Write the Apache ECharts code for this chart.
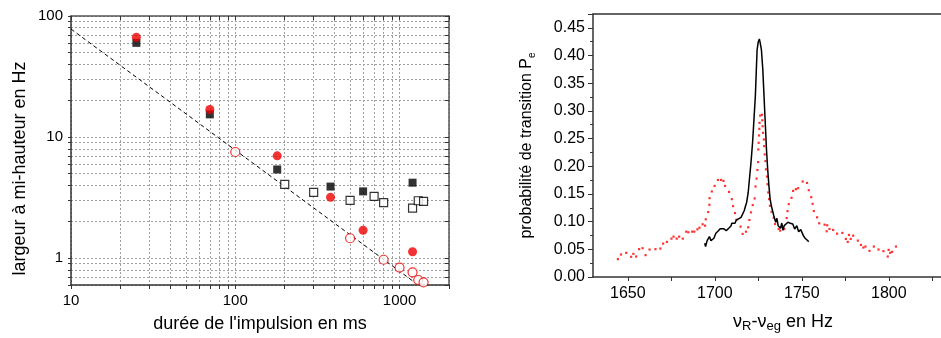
<!DOCTYPE html>
<html>
<head>
<meta charset="utf-8">
<script src="https://cdn.jsdelivr.net/npm/echarts@6/dist/echarts.min.js"></script>
<style>
  html, body { margin: 0; padding: 0; background: #fff; }
  #chart { width: 941px; height: 338px; }
</style>
</head>
<body>
<div id="chart"></div>
<script>
// left panel: linewidth vs pulse duration (log-log)
const pulseFilled = [25, 70, 180, 380, 600, 1200];
const widthSquareFilled = [60, 15.4, 5.4, 3.9, 3.56, 4.2];
const widthCircleFilled = [66.6, 16.9, 7.0, 3.18, 1.7, 1.13];
const pulseSquareOpen = [200, 300, 500, 700, 800, 1200, 1300, 1400];
const widthSquareOpen = [4.06, 3.49, 3.0, 3.24, 2.87, 2.59, 2.98, 2.94];
const pulseCircleOpen = [100, 500, 800, 1000, 1200, 1300, 1400];
const widthCircleOpen = [7.53, 1.46, 0.97, 0.836, 0.764, 0.66, 0.63];
const fitPulse = [10, 1300];
const fitWidth = [78, 0.6];
const leftXTicks = [10, 20, 30, 40, 50, 60, 70, 80, 90, 100, 200, 300, 400, 500, 600, 700, 800, 900, 1000, 2000];
const leftXLabels = [10, 100, 1000];
const leftYTicks = [0.6, 0.7, 0.8, 0.9, 1, 2, 3, 4, 5, 6, 7, 8, 9, 10, 20, 30, 40, 50, 60, 70, 80, 90, 100];
const leftYLabels = [1, 10, 100];

// right panel: transition probability vs detuning
const blackFreq = [1694.2, 1694.7, 1695.6, 1696.9, 1697.8, 1698.6, 1699.5, 1700.6, 1701.8, 1703.1, 1704.1, 1705.0, 1706.6, 1708.0, 1709.3, 1709.8, 1710.7, 1711.6, 1712.4, 1713.3, 1715.1, 1715.6, 1716.9, 1717.7, 1718.3, 1719.2, 1719.9, 1720.8, 1721.7, 1722.5, 1723.3, 1723.8, 1724.3, 1725.0, 1725.6, 1726.1, 1726.8, 1727.6, 1728.3, 1729.0, 1729.7, 1730.4, 1731.1, 1731.8, 1732.5, 1733.2, 1733.9, 1735.0, 1735.7, 1736.4, 1737.8, 1738.5, 1739.2, 1739.9, 1741.0, 1742.0, 1743.4, 1744.8, 1745.9, 1747.1, 1748.2, 1749.4, 1750.1, 1750.9, 1751.9, 1753.0, 1754.0];
const blackProb = [0.061, 0.055, 0.0657, 0.0729, 0.0657, 0.0629, 0.070, 0.079, 0.0826, 0.0873, 0.0885, 0.0873, 0.0837, 0.088, 0.0921, 0.097, 0.0945, 0.097, 0.1029, 0.1047, 0.1078, 0.1106, 0.1196, 0.1286, 0.1347, 0.1527, 0.1766, 0.2065, 0.2424, 0.2843, 0.3262, 0.3682, 0.410, 0.425, 0.430, 0.423, 0.410, 0.374, 0.326, 0.278, 0.2304, 0.1945, 0.1645, 0.1406, 0.1286, 0.1196, 0.1106, 0.0988, 0.106, 0.0927, 0.088, 0.0975, 0.0844, 0.0927, 0.0916, 0.0988, 0.097, 0.0957, 0.0867, 0.0927, 0.0819, 0.0855, 0.0819, 0.0747, 0.070, 0.0688, 0.0639];
const redFreq = [1644.3, 1646.1, 1649.1, 1651.9, 1653.2, 1654.8, 1656.5, 1658.5, 1660.2, 1662.5, 1665.9, 1668.7, 1670.3, 1672.5, 1675.1, 1676.3, 1678.1, 1679.5, 1681.6, 1683.6, 1684.8, 1687.0, 1688.2, 1690.0, 1691.2, 1693.0, 1694.4, 1694.8, 1696.2, 1696.9, 1697.0, 1698.3, 1699.9, 1701.8, 1703.6, 1705.0, 1705.9, 1708.2, 1709.8, 1710.5, 1711.6, 1712.4, 1714.8, 1716.0, 1717.9, 1719.2, 1719.9, 1720.8, 1721.8, 1722.9, 1723.4, 1724.0, 1724.5, 1724.9, 1725.0, 1725.2, 1725.4, 1725.6, 1725.7, 1726.1, 1727.1, 1727.3, 1727.5, 1727.7, 1728.2, 1728.4, 1728.7, 1729.1, 1729.4, 1730.0, 1730.3, 1730.7, 1731.2, 1731.7, 1732.6, 1733.9, 1734.6, 1736.7, 1737.6, 1739.9, 1741.3, 1741.8, 1742.5, 1744.1, 1745.0, 1746.6, 1747.9, 1750.5, 1753.0, 1754.0, 1755.4, 1756.2, 1756.9, 1758.8, 1760.0, 1763.1, 1764.3, 1764.6, 1765.9, 1768.0, 1770.3, 1773.3, 1775.3, 1776.4, 1777.1, 1778.1, 1779.5, 1782.2, 1784.0, 1785.4, 1786.6, 1788.9, 1791.4, 1794.1, 1796.9, 1799.4, 1799.9, 1800.8, 1801.9, 1804.1];
const redProb = [0.0323, 0.0406, 0.0436, 0.0365, 0.0418, 0.037, 0.0503, 0.052, 0.0395, 0.0496, 0.0503, 0.0514, 0.0603, 0.0634, 0.0693, 0.0729, 0.0693, 0.0729, 0.0693, 0.0819, 0.0808, 0.0819, 0.0819, 0.0862, 0.0891, 0.0952, 0.0927, 0.1042, 0.1173, 0.1304, 0.1424, 0.1545, 0.1645, 0.1753, 0.1753, 0.1735, 0.1645, 0.1537, 0.1406, 0.128, 0.1155, 0.1034, 0.0909, 0.0778, 0.0819, 0.0898, 0.1029, 0.1167, 0.1299, 0.1419, 0.1634, 0.1778, 0.1932, 0.2076, 0.2304, 0.2424, 0.2556, 0.2676, 0.2784, 0.2915, 0.293, 0.283, 0.2723, 0.2604, 0.2484, 0.2364, 0.2214, 0.2094, 0.1945, 0.1814, 0.1676, 0.1527, 0.1406, 0.1286, 0.1178, 0.107, 0.0957, 0.0867, 0.0837, 0.0867, 0.1065, 0.119, 0.1316, 0.143, 0.1555, 0.1586, 0.1604, 0.1724, 0.1699, 0.1568, 0.1442, 0.1322, 0.1191, 0.1078, 0.097, 0.0945, 0.0826, 0.0934, 0.0867, 0.085, 0.0783, 0.0796, 0.0688, 0.0634, 0.076, 0.0688, 0.0747, 0.0657, 0.058, 0.0532, 0.055, 0.0472, 0.055, 0.0496, 0.0467, 0.037, 0.049, 0.0436, 0.0454, 0.055];
const freqLabels = [1650, 1700, 1750, 1800];
const freqTicks = [1650, 1675, 1700, 1725, 1750, 1775, 1800, 1825];

const FONT = 'Liberation Sans, Arial, sans-serif';
const AXIS = '#333';
const zip = (xs, ys) => xs.map((x, i) => [x, ys[i]]);

const chart = echarts.init(document.getElementById('chart'));

const gridLine = { show: true, lineStyle: { color: '#a0a0a0', width: 1, type: [2, 2] } };
const tickLabel = (size) => ({ color: '#000', fontSize: size, fontFamily: FONT });

chart.setOption({
  animation: false,
  backgroundColor: '#fff',
  grid: [
    { left: 71, top: 16, width: 378, height: 269 },
    { left: 593, top: 14, width: 377, height: 264 }
  ],
  xAxis: [
    {
      gridIndex: 0, type: 'log', logBase: 10, min: 10, max: 2000, position: 'bottom',
      name: "durée de l'impulsion en ms", nameLocation: 'middle', nameGap: 30,
      nameTextStyle: { color: '#000', fontSize: 18, fontFamily: FONT },
      axisLine: { lineStyle: { color: AXIS, width: 1.5 } },
      axisTick: { show: true, inside: false, length: 4, customValues: leftXTicks, lineStyle: { color: AXIS } },
      axisLabel: Object.assign(tickLabel(15), { margin: 8, customValues: leftXLabels, formatter: v => String(Math.round(v)) }),
      splitLine: gridLine
    },
    {
      gridIndex: 0, type: 'log', logBase: 10, min: 10, max: 2000, position: 'top',
      axisLine: { lineStyle: { color: '#555', width: 1.5 } },
      axisTick: { show: true, inside: true, length: 4, customValues: leftXTicks, lineStyle: { color: AXIS } },
      axisLabel: { show: false }, splitLine: { show: false }
    },
    {
      gridIndex: 1, type: 'value', min: 1630, max: 1830, position: 'bottom',
      name: '{a|ν}{s|R}{a|-ν}{s|eg}{a| en Hz}', nameLocation: 'middle', nameGap: 34,
      nameTextStyle: {
        padding: [0, 0, 0, 32],
        rich: {
          a: { color: '#000', fontSize: 18, fontFamily: FONT, lineHeight: 22 },
          s: { color: '#000', fontSize: 13, fontFamily: FONT, lineHeight: 10, verticalAlign: 'bottom' }
        }
      },
      axisLine: { lineStyle: { color: AXIS, width: 1.5 } },
      axisTick: { show: true, inside: false, length: 4, customValues: freqTicks, lineStyle: { color: AXIS } },
      axisLabel: Object.assign(tickLabel(16), { margin: 9, customValues: freqLabels, formatter: v => String(v) }),
      splitLine: { show: false }
    },
    {
      gridIndex: 1, type: 'value', min: 1630, max: 1830, position: 'top',
      axisLine: { lineStyle: { color: AXIS, width: 1.5 } },
      axisTick: { show: false }, axisLabel: { show: false }, splitLine: { show: false }
    }
  ],
  yAxis: [
    {
      gridIndex: 0, type: 'log', logBase: 10, min: 0.6, max: 100, position: 'left',
      name: 'largeur à mi-hauteur en Hz', nameLocation: 'middle', nameGap: 42,
      nameTextStyle: { color: '#000', fontSize: 18, fontFamily: FONT, padding: [0, 36, 0, 0] },
      axisLine: { lineStyle: { color: AXIS, width: 1.5 } },
      axisTick: { show: true, inside: false, length: 3, customValues: leftYTicks, lineStyle: { color: AXIS } },
      axisLabel: Object.assign(tickLabel(15), { margin: 8, customValues: leftYLabels, formatter: v => String(Math.round(v)) }),
      splitLine: gridLine
    },
    {
      gridIndex: 0, type: 'log', logBase: 10, min: 0.6, max: 100, position: 'right',
      axisLine: { lineStyle: { color: '#555', width: 1.5 } },
      axisTick: { show: true, inside: true, length: 4, customValues: leftYTicks, lineStyle: { color: AXIS } },
      axisLabel: { show: false }, splitLine: { show: false }
    },
    {
      gridIndex: 1, type: 'value', min: 0, max: 0.475, interval: 0.05, position: 'left',
      name: '{a|probabilité de transition P}{s|e}', nameLocation: 'middle', nameGap: 56,
      nameTextStyle: {
        rich: {
          a: { color: '#000', fontSize: 16, fontFamily: FONT, lineHeight: 20 },
          s: { color: '#000', fontSize: 10, fontFamily: FONT, lineHeight: 8, verticalAlign: 'bottom' }
        }
      },
      axisLine: { lineStyle: { color: AXIS, width: 1.5 } },
      axisTick: { show: true, inside: false, length: 5, lineStyle: { color: AXIS } },
      minorTick: { show: true, splitNumber: 2, length: 3, lineStyle: { color: AXIS } },
      axisLabel: Object.assign(tickLabel(16), { margin: 8, showMaxLabel: false, formatter: v => v.toFixed(2) }),
      splitLine: { show: false }
    }
  ],
  series: [
    {
      type: 'line', xAxisIndex: 0, yAxisIndex: 0, data: zip(fitPulse, fitWidth),
      showSymbol: false, silent: true, z: 1,
      lineStyle: { color: '#000', width: 1, type: [4, 3] }
    },
    {
      type: 'scatter', xAxisIndex: 0, yAxisIndex: 0, data: zip(pulseFilled, widthSquareFilled),
      symbol: 'rect', symbolSize: 8, itemStyle: { color: '#000' }, z: 2
    },
    {
      type: 'scatter', xAxisIndex: 0, yAxisIndex: 0, data: zip(pulseSquareOpen, widthSquareOpen),
      symbol: 'rect', symbolSize: 8, itemStyle: { color: '#fff', borderColor: '#000', borderWidth: 1.2 }, z: 2
    },
    {
      type: 'scatter', xAxisIndex: 0, yAxisIndex: 0, data: zip(pulseFilled, widthCircleFilled),
      symbol: 'circle', symbolSize: 9, itemStyle: { color: '#ee0000' }, z: 3
    },
    {
      type: 'scatter', xAxisIndex: 0, yAxisIndex: 0, data: zip(pulseCircleOpen, widthCircleOpen),
      symbol: 'circle', symbolSize: 9, itemStyle: { color: '#fff', borderColor: '#ee0000', borderWidth: 1.2 }, z: 3
    },
    {
      type: 'scatter', xAxisIndex: 2, yAxisIndex: 2, data: zip(redFreq, redProb),
      symbol: 'rect', symbolSize: 2.2, itemStyle: { color: '#ff0000' }, z: 2
    },
    {
      type: 'line', xAxisIndex: 2, yAxisIndex: 2, data: zip(blackFreq, blackProb),
      showSymbol: false, z: 3,
      lineStyle: { color: '#000', width: 1.5 }
    }
  ]
});
</script>
</body>
</html>
